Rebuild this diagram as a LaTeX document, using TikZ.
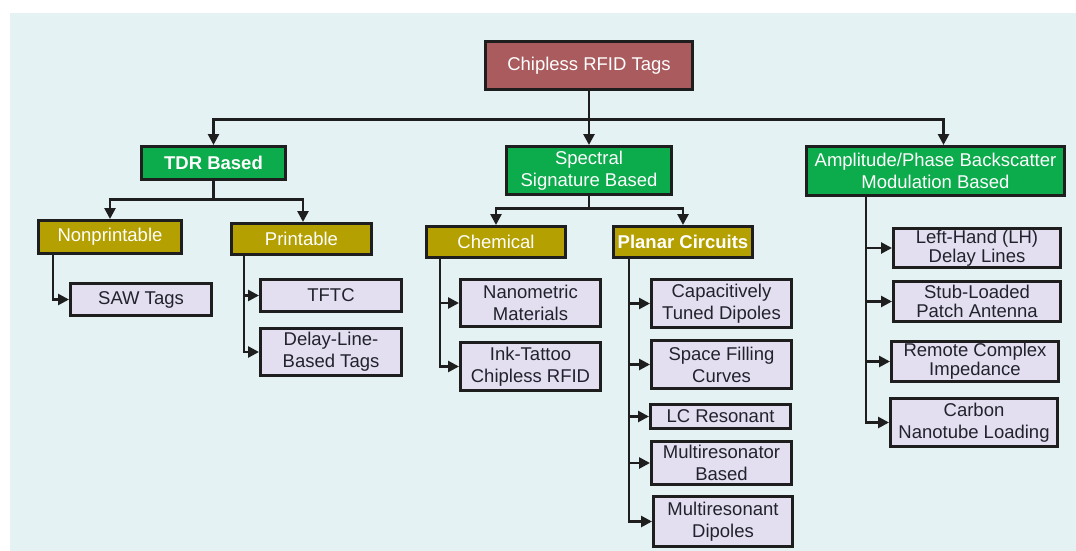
\documentclass[tikz,border=0pt]{standalone}
\usepackage{fontspec}
\setmainfont{Liberation Sans}
\usetikzlibrary{arrows.meta}
\definecolor{bgc}{HTML}{E4F2F3}
\definecolor{rootc}{HTML}{A95B5E}
\definecolor{greenc}{HTML}{0CAB4B}
\definecolor{olivec}{HTML}{B4A000}
\definecolor{leafc}{HTML}{E3DFF0}
\definecolor{leaftxt}{HTML}{22222E}
\definecolor{linec}{HTML}{1E1E1E}
\begin{document}
\begin{tikzpicture}[x=1pt,y=-1pt,
  box/.style={draw=linec, line width=3pt, inner sep=0pt, align=center,
    font=\fontsize{18.5}{22}\selectfont},
  tight/.style={font=\fontsize{18.5}{19}\selectfont},
  rootbox/.style={box, fill=rootc, text=white},
  catbox/.style={box, fill=greenc, text=white},
  subbox/.style={box, fill=olivec, text=white},
  leaf/.style={box, fill=leafc, text=leaftxt},
  arr/.style={draw=linec, line width=2.6pt, -{Triangle[length=11pt,width=11pt]}},
]
\useasboundingbox (0,0) rectangle (1076,551);
\fill[white] (0,0) rectangle (1076,551);
\fill[bgc] (10,13) rectangle (1076,551);

% root and categories
\node[rootbox, minimum width=207pt, minimum height=48pt] (root) at (589,65.5) {Chipless RFID Tags};
\node[catbox, minimum width=144pt, minimum height=33pt] (tdr) at (213.5,163) {\bfseries TDR Based};
\node[catbox, minimum width=165pt, minimum height=48pt] (spec) at (589,170.5) {Spectral\\Signature Based};
\node[catbox, minimum width=258pt, minimum height=49pt] (amp) at (935.5,171) {Amplitude/Phase Backscatter\\Modulation Based};

% sub-categories
\node[subbox, minimum width=143pt, minimum height=33pt] (nonp) at (110,237) {Nonprintable};
\node[subbox, minimum width=140pt, minimum height=31pt] (prin) at (301.5,239) {Printable};
\node[subbox, minimum width=139pt, minimum height=31pt] (chem) at (496,242) {Chemical};
\node[subbox, minimum width=139pt, minimum height=31pt] (plan) at (683,242) {\bfseries Planar Circuits};

% leaves
\node[leaf, minimum width=141pt, minimum height=32pt] (saw) at (141,299.5) {SAW Tags};
\node[leaf, minimum width=141pt, minimum height=32pt] (tftc) at (331,295.5) {TFTC};
\node[leaf, minimum width=141pt, minimum height=47pt] (dlb) at (331,352) {Delay-Line-\\Based Tags};
\node[leaf, minimum width=140pt, minimum height=47pt] (nano) at (530.5,303) {Nanometric\\Materials};
\node[leaf, minimum width=140pt, minimum height=48pt] (ink) at (530.5,366.5) {Ink-Tattoo\\Chipless RFID};
\node[leaf, minimum width=140pt, minimum height=48pt] (cap) at (721.5,303.5) {Capacitively\\Tuned Dipoles};
\node[leaf, minimum width=140pt, minimum height=48pt] (sfc) at (721.5,364.5) {Space Filling\\Curves};
\node[leaf, minimum width=140pt, minimum height=24pt] (lc) at (720.5,416.5) {LC Resonant};
\node[leaf, minimum width=140pt, minimum height=43pt] (mrb) at (721.5,463) {Multiresonator\\Based};
\node[leaf, minimum width=139pt, minimum height=50pt] (mrd) at (723,521.5) {Multiresonant\\Dipoles};
\node[leaf, tight, minimum width=167pt, minimum height=39pt] (lh) at (977,248) {Left-Hand (LH)\\Delay Lines};
\node[leaf, tight, minimum width=167pt, minimum height=40pt] (stub) at (977,301.5) {Stub-Loaded\\Patch Antenna};
\node[leaf, tight, minimum width=167pt, minimum height=40pt] (rem) at (975,361.5) {Remote Complex\\Impedance};
\node[leaf, minimum width=167pt, minimum height=48pt] (carb) at (974,422.5) {Carbon\\Nanotube Loading};

% root connectors
\draw[arr] (root.south) -- ++(0,28.5) -| (tdr.north);
\draw[arr] (root.south) -- (spec.north);
\draw[arr] (root.south) -- ++(0,28.5) -| ([xshift=8pt]amp.north);

% TDR
\draw[arr] (tdr.south) -- ++(0,18.5) -| (nonp.north);
\draw[arr] (tdr.south) -- ++(0,18.5) -| ([xshift=1.5pt]prin.north);
% Spectral
\draw[arr] (spec.south) -- ++(0,12.5) -| (chem.north);
\draw[arr] (spec.south) -- ++(0,12.5) -| (plan.north);

% Nonprintable
\draw[arr] ([xshift=16pt]nonp.south west) |- (saw.west);
% Printable
\draw[arr] ([xshift=14pt]prin.south west) |- (tftc.west);
\draw[arr] ([xshift=14pt]prin.south west) |- (dlb.west);
% Chemical
\draw[arr] ([xshift=15pt]chem.south west) |- (nano.west);
\draw[arr] ([xshift=15pt]chem.south west) |- (ink.west);
% Planar
\draw[arr] ([xshift=17pt]plan.south west) |- (cap.west);
\draw[arr] ([xshift=17pt]plan.south west) |- (sfc.west);
\draw[arr] ([xshift=17pt]plan.south west) |- (lc.west);
\draw[arr] ([xshift=17pt]plan.south west) |- (mrb.west);
\draw[arr] ([xshift=17pt]plan.south west) |- (mrd.west);
% Amplitude
\draw[arr] ([xshift=61pt]amp.south west) |- (lh.west);
\draw[arr] ([xshift=61pt]amp.south west) |- (stub.west);
\draw[arr] ([xshift=61pt]amp.south west) |- (rem.west);
\draw[arr] ([xshift=61pt]amp.south west) |- (carb.west);
\end{tikzpicture}
\end{document}
